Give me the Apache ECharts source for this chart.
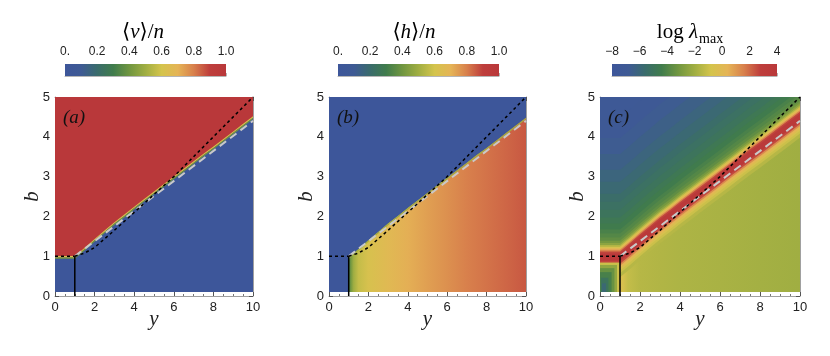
<!DOCTYPE html>
<html>
<head>
<meta charset="utf-8">
<script src="https://cdn.jsdelivr.net/npm/echarts@6/dist/echarts.min.js"></script>
<style>
  html, body { margin: 0; background: #fff; }
  #main { width: 830px; height: 356px; }
</style>
</head>
<body>
<div id="main"></div>
<script>
// transition line b(y)
const yGrid = [0, 0.5, 1, 1.5, 2, 2.5, 3, 3.5, 4, 4.5, 5, 5.5, 6, 6.5, 7, 7.5, 8, 8.5, 9, 9.5, 10];
const bEdge = [0.97, 0.97, 0.97, 1.18, 1.4, 1.61, 1.82, 2.01, 2.21, 2.4, 2.59, 2.78, 2.97, 3.16, 3.35, 3.54, 3.72, 3.91, 4.1, 4.29, 4.48];

// overlay lines
const dashY = [1, 1.5, 2, 3, 4, 5, 6, 7, 8, 9, 10];
const dashB = [1, 1.08, 1.22, 1.65, 2.1, 2.55, 3.0, 3.5, 4.0, 4.5, 5.0];
const flatY = [0, 1];
const flatB = [1, 1];
const vertY = [1, 1];
const vertB = [0, 1];
const grayY = [1, 10];
const grayB = [1, 4.4];

// (a) <v>/n : bands relative to the transition line, painted in order
const aBandLo = [0, 0, -0.035];
const aBandHi = [4.5, 0.035, 0];
const aBandV = [1, 0.62, 0.4];
const aLowY = [0, 10];
const aLowV = [0, 0];

// (b) <h>/n
const bBandLo = [0, -0.04];
const bBandHi = [4.5, 0];
const bBandV = [0, 0.5];
const bLowY = [1, 1.1, 1.25, 1.5, 2, 3, 4, 5, 6, 7, 8, 9, 10];
const bLowV = [0.28, 0.4, 0.5, 0.57, 0.62, 0.67, 0.71, 0.74, 0.77, 0.8, 0.82, 0.84, 0.86];
const bBoxY0 = [0];
const bBoxY1 = [1];
const bBoxB0 = [0.1];
const bBoxB1 = [0.98];
const bBoxV = [0];

// (c) log lambda_max
const cBandLo = [-0.3, -0.3, -0.3, -0.3, -0.3, -0.3, -0.3, -0.3, -0.3, -0.3, -0.3,
                 -0.3, -0.3, -0.3, -0.3, -0.3, -0.3, -0.3, -0.3, -0.3, -0.3, -0.3,
                 -0.5, -0.4, -0.33, -0.27, -0.21, -0.16, -0.1];
const cBandHi = [4.5, 4.0, 3.5, 3.0, 2.6, 2.2, 1.9, 1.6, 1.4, 1.2, 1.0,
                 0.85, 0.7, 0.6, 0.5, 0.42, 0.36, 0.31, 0.27, 0.23, 0.19, 0.15,
                 0, 0, 0, 0, 0, 0, 0.1];
const cBandV = [-7.4, -7.2, -7.0, -6.7, -6.4, -6.1, -5.8, -5.5, -5.25, -5.0, -4.7,
                -4.45, -4.15, -3.9, -3.6, -3.1, -2.5, -1.6, -0.6, 0.4, 1.5, 2.7,
                -1.5, -1.0, -0.5, 0.3, 1.4, 2.6, 3.8];
const cLowY = [1, 1.15, 1.4, 2, 3, 4, 6, 8, 10];
const cLowV = [-0.3, -0.6, -1.2, -1.5, -1.6, -1.7, -1.8, -1.9, -2.0];
const cBoxY0 = [0, 0, 0, 0, 0.05, 0.1];
const cBoxY1 = [1, 0.85, 0.72, 0.58, 0.42, 0.3];
const cBoxB0 = [0.1, 0.1, 0.1, 0.1, 0.1, 0.1];
const cBoxB1 = [0.84, 0.78, 0.7, 0.6, 0.46, 0.32];
const cBoxV = [-1.0, -2.4, -3.4, -4.2, -5.0, -5.8];

// colour scale
const CMAP = [
  [0.0, [61, 86, 154]], [0.1, [62, 90, 148]], [0.2, [58, 108, 108]], [0.3, [64, 124, 76]],
  [0.4, [112, 150, 64]], [0.5, [160, 174, 66]], [0.6, [212, 196, 76]], [0.7, [229, 180, 86]],
  [0.8, [216, 128, 76]], [0.9, [190, 62, 60]], [1.0, [185, 56, 58]]
];
function cmap(t) {
  t = Math.max(0, Math.min(1, t));
  for (let k = 1; k < CMAP.length; k++) {
    if (t <= CMAP[k][0]) {
      const p = CMAP[k - 1], q = CMAP[k];
      const f = (t - p[0]) / (q[0] - p[0]);
      return 'rgb(' + [0, 1, 2].map(j => Math.round(p[1][j] + f * (q[1][j] - p[1][j]))).join(',') + ')';
    }
  }
}

function buildPolys(p) {
  const norm = v => (v - p.range[0]) / (p.range[1] - p.range[0]);
  const polys = [];
  // lower region, horizontal gradient
  const y0 = p.lowY[0], y1 = p.lowY[p.lowY.length - 1];
  const top = [];
  yGrid.forEach((y, i) => { if (y >= y0) top.push([y, bEdge[i] + 0.1]); });
  polys.push({
    pts: top.concat([[y1, 0.1], [y0, 0.1]]),
    fill: new echarts.graphic.LinearGradient(0, 0, 1, 0,
      p.lowY.map((y, i) => ({ offset: (y - y0) / (y1 - y0), color: cmap(norm(p.lowV[i])) })))
  });
  // bands following the transition line
  p.bandLo.forEach((lo, k) => {
    const hi = p.bandHi[k];
    const up = yGrid.map((y, i) => [y, bEdge[i] + hi]);
    const dn = yGrid.map((y, i) => [y, bEdge[i] + lo]).reverse();
    polys.push({ pts: up.concat(dn), fill: cmap(norm(p.bandV[k])) });
  });
  // rectangular patches
  (p.boxY0 || []).forEach((bx, k) => {
    const ex = p.boxY1[k], b0 = p.boxB0[k], b1 = p.boxB1[k];
    polys.push({ pts: [[bx, b0], [ex, b0], [ex, b1], [bx, b1]], fill: cmap(norm(p.boxV[k])) });
  });
  return polys;
}

const panels = [
  { range: [0, 1], bandLo: aBandLo, bandHi: aBandHi, bandV: aBandV, lowY: aLowY, lowV: aLowV },
  { range: [0, 1], bandLo: bBandLo, bandHi: bBandHi, bandV: bBandV, lowY: bLowY, lowV: bLowV,
    boxY0: bBoxY0, boxY1: bBoxY1, boxB0: bBoxB0, boxB1: bBoxB1, boxV: bBoxV },
  { range: [-8, 4], bandLo: cBandLo, bandHi: cBandHi, bandV: cBandV, lowY: cLowY, lowV: cLowV,
    boxY0: cBoxY0, boxY1: cBoxY1, boxB0: cBoxB0, boxB1: cBoxB1, boxV: cBoxV }
];

const plotLeft = [55, 329, 600];
const plotWidth = [198, 197, 200];
const barLeft = [65, 338, 612];
const barWidth = [161, 161, 165];
const labels = ['(a)', '(b)', '(c)'];

const SANS = 'Liberation Sans, Arial, sans-serif';
const SERIF = 'Liberation Serif, DejaVu Serif, serif';

const grid = [], xAxis = [], yAxis = [], series = [], graphic = [];

panels.forEach((p, i) => {
  grid.push({ left: plotLeft[i], top: 97, width: plotWidth[i], height: 199 });
  const frame = { show: true, onZero: false, lineStyle: { color: '#a0a0a0', width: 1 } };
  const tick = { inside: true, length: 4, lineStyle: { color: '#555' } };
  xAxis.push({
    type: 'value', gridIndex: i, min: 0, max: 10, interval: 2, position: 'bottom',
    axisLine: frame, axisTick: tick,
    minorTick: { show: true, splitNumber: 4, length: 2, lineStyle: { color: '#777' } },
    splitLine: { show: false },
    axisLabel: { fontFamily: SANS, fontSize: 13, color: '#222', margin: 5 },
    name: 'y', nameLocation: 'middle', nameGap: 13, nameMoveOverlap: false,
    nameTextStyle: { fontFamily: SERIF, fontStyle: 'italic', fontSize: 21, color: '#222' }
  });
  xAxis.push({
    type: 'value', gridIndex: i, min: 0, max: 10, interval: 2, position: 'top',
    axisLine: frame, axisTick: tick,
    minorTick: { show: true, splitNumber: 4, length: 2, lineStyle: { color: '#777' } },
    splitLine: { show: false }, axisLabel: { show: false }
  });
  yAxis.push({
    type: 'value', gridIndex: i, min: 0, max: 5, interval: 1, position: 'left',
    axisLine: frame, axisTick: tick,
    minorTick: { show: true, splitNumber: 5, length: 2, lineStyle: { color: '#777' } },
    splitLine: { show: false },
    axisLabel: { fontFamily: SANS, fontSize: 13, color: '#222', margin: 5 },
    name: 'b', nameLocation: 'middle', nameGap: 12, nameMoveOverlap: false,
    nameTextStyle: { fontFamily: SERIF, fontStyle: 'italic', fontSize: 21, color: '#222' }
  });
  yAxis.push({
    type: 'value', gridIndex: i, min: 0, max: 5, interval: 1, position: 'right',
    axisLine: frame, axisTick: tick,
    minorTick: { show: true, splitNumber: 5, length: 2, lineStyle: { color: '#777' } },
    splitLine: { show: false }, axisLabel: { show: false }
  });

  const polys = buildPolys(p);
  series.push({
    type: 'custom', xAxisIndex: 2 * i, yAxisIndex: 2 * i, clip: true, silent: true,
    data: polys.map(() => [5, 2.5]),
    renderItem: (params, api) => {
      const q = polys[params.dataIndex];
      return { type: 'polygon', shape: { points: q.pts.map(pt => api.coord(pt)) }, style: { fill: q.fill } };
    },
    z: 1
  });
  const line = (ys, bs, style) => ({
    type: 'line', xAxisIndex: 2 * i, yAxisIndex: 2 * i, symbol: 'none', silent: true, z: 3,
    data: ys.map((y, k) => [y, bs[k]]), lineStyle: style
  });
  series.push(line(grayY, grayB, { color: '#c9c9c9', width: 2, type: [8, 5] }));
  series.push(line(dashY, dashB, { color: '#000', width: 1.5, type: [3, 3] }));
  series.push(line(flatY, flatB, { color: '#000', width: 1.5, type: [3, 3] }));
  series.push(line(vertY, vertB, { color: '#000', width: 1.5 }));

  graphic.push({
    type: 'text', x: plotLeft[i] + 8, y: 118, z: 100,
    style: { text: labels[i], font: 'italic 19px ' + SERIF, fill: '#111', verticalAlign: 'middle' }
  });
});

// colour bars
panels.forEach((p, i) => {
  const gi = 3 + i;
  grid.push({ left: barLeft[i], top: 64, width: barWidth[i], height: 12 });
  const isLog = i === 2;
  xAxis.push({
    type: 'value', gridIndex: gi, min: p.range[0], max: p.range[1], interval: isLog ? 2 : 0.2,
    position: 'top',
    axisLine: { show: true, lineStyle: { color: '#b5b5b5' } },
    axisTick: { show: true, length: 3, lineStyle: { color: '#b5b5b5' } },
    minorTick: { show: true, splitNumber: 2, length: 2, lineStyle: { color: '#c5c5c5' } },
    splitLine: { show: false },
    axisLabel: {
      fontFamily: SANS, fontSize: 12, color: '#222', margin: 6,
      formatter: v => isLog ? String(v).replace('-', '\u2212') : (v === 0 ? '0.' : v.toFixed(1))
    }
  });
  yAxis.push({ type: 'value', gridIndex: gi, min: 0, max: 1, show: false });
  series.push({
    type: 'custom', xAxisIndex: 6 + i, yAxisIndex: 6 + i, silent: true,
    data: [[p.range[0], 0]],
    renderItem: (params, api) => {
      const a = api.coord([p.range[0], 1]);
      const b = api.coord([p.range[1], 0]);
      return {
        type: 'rect', shape: { x: a[0], y: a[1], width: b[0] - a[0], height: b[1] - a[1] },
        style: { fill: new echarts.graphic.LinearGradient(0, 0, 1, 0, CMAP.map(s => ({ offset: s[0], color: cmap(s[0]) }))) }
      };
    }
  });
});

const titleRich = {
  u: { fontFamily: SERIF, fontSize: 21, color: '#111' },
  i: { fontFamily: SERIF, fontSize: 21, fontStyle: 'italic', color: '#111' },
  s: { fontFamily: SERIF, fontSize: 14, color: '#111', padding: [15, 0, 0, 1] }
};
const titleText = ['{u|\u27E8}{i|v}{u|\u27E9/}{i|n}', '{u|\u27E8}{i|h}{u|\u27E9/}{i|n}', '{u|log }{i|\u03BB}{s|max}'];
const titleX = [143, 414, 690];
titleText.forEach((t, i) => {
  graphic.push({
    type: 'text', x: titleX[i], y: 32, z: 100,
    style: { text: t, rich: titleRich, align: 'center', verticalAlign: 'middle' }
  });
});

const chart = echarts.init(document.getElementById('main'));
chart.setOption({
  animation: false,
  backgroundColor: '#fff',
  grid, xAxis, yAxis, series, graphic
});
</script>
</body>
</html>
